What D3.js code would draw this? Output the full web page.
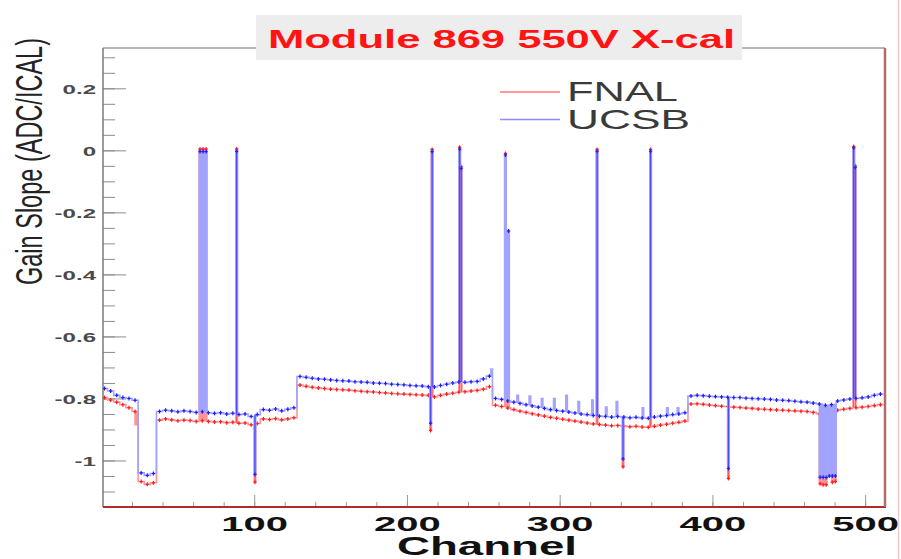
<!DOCTYPE html>
<html>
<head>
<meta charset="utf-8">
<script src="https://cdn.jsdelivr.net/npm/d3@7"></script>
<style>
  body { margin: 0; background: #fff; }
  svg { display: block; font-family: "Liberation Sans", Arial, Helvetica, sans-serif; }
</style>
</head>
<body>
<div id="chart"></div>
<script>
var frame = {
  width: 901,
  height: 559,
  left: 103,
  right: 885,
  top: 48,
  bottom: 507,
}

// gain slope, one value per group of 4 channels (128 groups = 512 channels)
var ucsbGroups = [
  -0.768, -0.776, -0.790, -0.797, -0.800, -0.806, -1.040, -1.048, -1.042, -0.842, -0.838, -0.840, -0.843, -0.840, -0.842, -0.845,
  -0.843, -0.846, -0.848, -0.846, -0.850, -0.848, -0.852, -0.850, -0.858, -0.852, -0.836, -0.838, -0.834, -0.840, -0.835, -0.830,
  -0.729, -0.732, -0.735, -0.737, -0.738, -0.740, -0.742, -0.743, -0.744, -0.746, -0.747, -0.748, -0.750, -0.751, -0.752, -0.754,
  -0.755, -0.756, -0.758, -0.759, -0.760, -0.762, -0.763, -0.758, -0.754, -0.750, -0.747, -0.748, -0.746, -0.745, -0.737, -0.728,
  -0.800, -0.803, -0.808, -0.812, -0.816, -0.820, -0.824, -0.828, -0.832, -0.836, -0.839, -0.841, -0.844, -0.847, -0.850, -0.852,
  -0.855, -0.857, -0.858, -0.860, -0.858, -0.860, -0.862, -0.861, -0.863, -0.864, -0.860, -0.857, -0.855, -0.852, -0.850, -0.846,
  -0.792, -0.790, -0.791, -0.793, -0.794, -0.795, -0.796, -0.797, -0.797, -0.799, -0.800, -0.801, -0.802, -0.803, -0.805, -0.806,
  -0.807, -0.809, -0.811, -0.812, -0.815, -0.818, -0.822, -0.820, -0.808, -0.805, -0.802, -0.800, -0.798, -0.795, -0.790, -0.786
];
var fnalGroups = [
  -0.797, -0.805, -0.812, -0.820, -0.830, -0.842, -1.068, -1.077, -1.072, -0.870, -0.866, -0.869, -0.872, -0.870, -0.871, -0.874,
  -0.872, -0.874, -0.876, -0.875, -0.878, -0.877, -0.880, -0.879, -0.885, -0.881, -0.866, -0.868, -0.865, -0.869, -0.866, -0.862,
  -0.757, -0.761, -0.764, -0.766, -0.768, -0.770, -0.771, -0.772, -0.773, -0.775, -0.777, -0.778, -0.779, -0.781, -0.782, -0.784,
  -0.785, -0.786, -0.787, -0.788, -0.789, -0.790, -0.795, -0.790, -0.786, -0.783, -0.780, -0.778, -0.776, -0.774, -0.770, -0.762,
  -0.822, -0.826, -0.831, -0.836, -0.841, -0.845, -0.849, -0.853, -0.857, -0.861, -0.864, -0.867, -0.870, -0.873, -0.876, -0.879,
  -0.882, -0.884, -0.886, -0.888, -0.887, -0.889, -0.891, -0.890, -0.892, -0.893, -0.890, -0.886, -0.883, -0.880, -0.877, -0.873,
  -0.818, -0.817, -0.819, -0.821, -0.823, -0.825, -0.826, -0.828, -0.829, -0.831, -0.832, -0.834, -0.835, -0.836, -0.837, -0.838,
  -0.839, -0.840, -0.841, -0.842, -0.845, -0.849, -0.853, -0.851, -0.838, -0.835, -0.832, -0.830, -0.828, -0.826, -0.823, -0.820
];

// single channels off their group level: [channel, slope]
var ucsbOdd = [
  [64, -0.004], [66, -0.004], [68, -0.004], [88, -0.003], [100, -1.045], [215, -0.88], [216, -0.004],
  [234, 0.004], [235, -0.058], [255, -0.705], [264, -0.015], [266, -0.26], [272, -0.79], [280, -0.792],
  [288, -0.80], [296, -0.80], [304, -0.79], [312, -0.81], [321, -0.805], [324, -0.003], [330, -0.828],
  [337, -0.81], [341, -0.995], [354, -0.83], [359, -0.003], [370, -0.83], [377, -0.83], [410, -1.026],
  [470, -1.054], [472, -1.054], [474, -1.055], [476, -1.05], [478, -1.05], [480, -1.05], [492, 0.008], [493, -0.055]
];
var fnalOdd = [
  [22, -0.885], [64, 0.004], [66, 0.004], [68, 0.004], [88, 0.004], [100, -1.07], [215, -0.903], [216, 0.003],
  [234, 0.01], [235, -0.052], [264, -0.01], [266, -0.26], [324, 0.003], [341, -1.02], [359, 0.003], [410, -1.058],
  [470, -1.075], [472, -1.078], [474, -1.078], [476, -0.955], [478, -1.07], [480, -1.068], [492, 0.012], [493, -0.05]
];

var xTicksMajor = [100, 200, 300, 400, 500];
var yTicksMajor = [-1, -0.8, -0.6, -0.4, -0.2, 0, 0.2];
var legendNames = ["FNAL", "UCSB"];
var titleText = "Module 869 550V X-cal";

var x = d3.scaleLinear().domain([1, 513]).range([frame.left, frame.right]);
var y = d3.scaleLinear().domain([-1.15, 0.33]).range([frame.bottom, frame.top]);

// the picture is stretched sideways, so text gets stretched too
function stretch(sel, k) {
  sel.each(function () {
    let w = this.getComputedTextLength();
    d3.select(this).attr("textLength", w * k).attr("lengthAdjust", "spacingAndGlyphs");
  });
}

function channelSlopes(groups, odd) {
  let vals = [];
  groups.forEach((g) => { for (let k = 0; k < 4; k++) vals.push(g); });
  odd.forEach((d) => { vals[d[0]] = d[1]; });
  return vals;
}

function drawSeries(g, groups, odd, light, core, dark) {
  let vals = channelSlopes(groups, odd);
  let pts = vals.map((v, c) => [c, v]);
  pts.push([vals.length, vals[vals.length - 1]]);

  let line = d3.line()
    .x((d) => x(d[0]))
    .y((d) => y(d[1]))
    .curve(d3.curveStepAfter);

  g.append("path")
    .attr("d", line(pts))
    .style("fill", "none")
    .style("stroke", light)
    .style("stroke-width", 1.6);

  let base = (d) => groups[Math.floor(d[0] / 4)];
  let big = odd.filter((d) => Math.abs(d[1] - base(d)) > 0.1);

  /* darker core on isolated big jumps */
  let oddCh = odd.map((d) => d[0]);
  let cores = big.filter((d) => !oddCh.includes(d[0] - 2) && !oddCh.includes(d[0] + 2));
  g.selectAll(".core")
    .data(cores)
    .enter()
    .append("line")
    .attr("x1", (d) => x(d[0] + 0.5))
    .attr("x2", (d) => x(d[0] + 0.5))
    .attr("y1", (d) => y(base(d)))
    .attr("y2", (d) => y(d[1]))
    .style("stroke", core)
    .style("stroke-width", 1.3);

  /* markers */
  let marks = groups.map((v, i) => [i * 4 + 2, v]).concat(big.map((d) => [d[0] + 0.5, d[1]]));
  g.selectAll(".ev")
    .data(marks)
    .enter()
    .append("line")
    .attr("x1", (d) => x(d[0]))
    .attr("x2", (d) => x(d[0]))
    .attr("y1", (d) => y(d[1]) - 2)
    .attr("y2", (d) => y(d[1]) + 2)
    .style("stroke", dark)
    .style("stroke-width", 1.2);
  g.selectAll(".eh")
    .data(marks)
    .enter()
    .append("line")
    .attr("x1", (d) => x(d[0]) - 1.6)
    .attr("x2", (d) => x(d[0]) + 1.6)
    .attr("y1", (d) => y(d[1]))
    .attr("y2", (d) => y(d[1]))
    .style("stroke", dark)
    .style("stroke-width", 1.2);
}

function initChart() {
  let svg = d3.select("#chart")
    .append("svg")
    .attr("width", frame.width)
    .attr("height", frame.height);

  svg.append("clipPath").attr("id", "plotClip")
    .append("rect")
    .attr("x", frame.left).attr("y", frame.top)
    .attr("width", frame.right - frame.left).attr("height", frame.bottom - frame.top);

  /* faint edge line at far right */
  svg.append("line").attr("x1", 898.5).attr("x2", 898.5).attr("y1", 0).attr("y2", frame.height)
    .style("stroke", "#f3caca").style("stroke-width", 1.5);

  /* y ticks (inside the frame) */
  let yMinor = d3.range(-23, 7).map((i) => i * 0.05);
  svg.append("g")
    .attr("transform", `translate(${frame.left}, 0)`)
    .call(d3.axisLeft(y).tickValues(yMinor).tickSize(-12).tickFormat(""))
    .call((g) => g.select(".domain").remove())
    .selectAll("line").style("stroke", "#8c8c8c");

  let yAxis = svg.append("g")
    .attr("transform", `translate(${frame.left}, 0)`)
    .call(d3.axisLeft(y).tickValues(yTicksMajor).tickSize(-23).tickFormat((d) => String(d)));
  yAxis.select(".domain").remove();
  yAxis.selectAll("line").style("stroke", "#8c8c8c");
  yAxis.selectAll("text")
    .attr("x", -7)
    .attr("dy", "0.42em")
    .style("font-size", "13px")
    .style("font-weight", "bold")
    .style("fill", "#4a4a4a")
    .style("font-family", "'Liberation Sans', Arial, sans-serif");
  stretch(yAxis.selectAll("text"), 1.85);

  /* x ticks (pointing up) */
  let xMinor = d3.range(20, 513, 20);
  svg.append("g")
    .attr("transform", `translate(0, ${frame.bottom})`)
    .call(d3.axisBottom(x).tickValues(xMinor).tickSize(-5).tickFormat(""))
    .call((g) => g.select(".domain").remove())
    .selectAll("line").style("stroke", "#9a9a9a");

  let xAxis = svg.append("g")
    .attr("transform", `translate(0, ${frame.bottom})`)
    .call(d3.axisBottom(x).tickValues(xTicksMajor).tickSize(-12).tickFormat((d) => String(d)));
  xAxis.select(".domain").remove();
  xAxis.selectAll("line").style("stroke", "#9a9a9a");
  xAxis.selectAll("text")
    .attr("y", 24)
    .attr("dy", null)
    .style("font-size", "20px")
    .style("font-weight", "bold")
    .style("fill", "#111")
    .style("font-family", "'Liberation Sans', Arial, sans-serif");
  stretch(xAxis.selectAll("text"), 2.0);

  /* frame */
  svg.append("line").attr("x1", frame.left).attr("x2", frame.right).attr("y1", frame.top).attr("y2", frame.top)
    .style("stroke", "#6e6e6e").style("stroke-width", 1);
  svg.append("line").attr("x1", frame.left).attr("x2", frame.left).attr("y1", frame.top).attr("y2", frame.bottom)
    .style("stroke", "#7a7a7a").style("stroke-width", 1.5);

  /* histograms */
  let plot = svg.append("g").attr("clip-path", "url(#plotClip)");
  drawSeries(plot.append("g"), fnalGroups, fnalOdd, "#ff9494", "#ff5a5a", "#ff1c1c");
  drawSeries(plot.append("g"), ucsbGroups, ucsbOdd, "#a2a2ff", "#4a4aff", "#1c1cff");

  svg.append("line").attr("x1", frame.left).attr("x2", frame.right + 1).attr("y1", frame.bottom).attr("y2", frame.bottom)
    .style("stroke", "#b32a2a").style("stroke-width", 2);
  svg.append("line").attr("x1", frame.right).attr("x2", frame.right).attr("y1", frame.top).attr("y2", frame.bottom)
    .style("stroke", "#b36a6a").style("stroke-width", 2.5);

  /* title */
  svg.append("rect")
    .attr("x", 256).attr("y", 15).attr("width", 486).attr("height", 45)
    .style("fill", "#ededed");
  svg.append("text")
    .attr("x", 268).attr("y", 48)
    .attr("textLength", 467).attr("lengthAdjust", "spacingAndGlyphs")
    .text(titleText)
    .style("font-size", "26px").style("font-weight", "bold").style("fill", "#ff1414");

  /* legend */
  let legColors = ["#ff7a7a", "#8c8cff"];
  let legWidth = [111, 123];
  legendNames.forEach((name, i) => {
    svg.append("line")
      .attr("x1", 500).attr("x2", 560)
      .attr("y1", 92 + i * 27.5).attr("y2", 92 + i * 27.5)
      .style("stroke", legColors[i]).style("stroke-width", 1.5);
    svg.append("text")
      .attr("x", 567).attr("y", 101 + i * 28)
      .attr("textLength", legWidth[i]).attr("lengthAdjust", "spacingAndGlyphs")
      .text(name)
      .style("font-size", "28px").style("fill", "#3a3a3a");
  });

  /* axis titles */
  svg.append("text")
    .attr("x", 487).attr("y", 555)
    .attr("text-anchor", "middle")
    .attr("textLength", 180).attr("lengthAdjust", "spacingAndGlyphs")
    .text("Channel")
    .style("font-size", "25px").style("font-weight", "bold").style("fill", "#111");

  svg.append("text")
    .attr("transform", "translate(42, 161.5) scale(1.8, 1) rotate(-90)")
    .attr("text-anchor", "middle")
    .attr("textLength", 247).attr("lengthAdjust", "spacingAndGlyphs")
    .text("Gain Slope (ADC/ICAL)")
    .style("font-size", "20px").style("fill", "#222");
}

initChart();
</script>
</body>
</html>
